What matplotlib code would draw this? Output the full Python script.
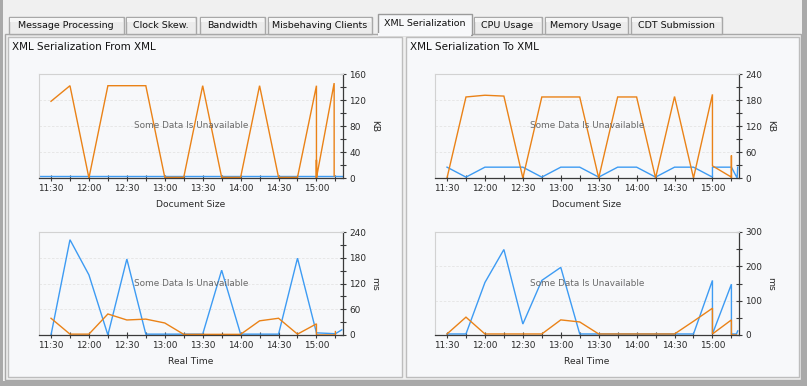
import matplotlib
matplotlib.use("Agg")
import matplotlib.pyplot as plt
from matplotlib.patches import Rectangle
from matplotlib.ticker import FixedLocator, MultipleLocator

# ---------------- data ----------------
tab_labels = ["Message Processing", "Clock Skew.", "Bandwidth", "Misbehaving Clients",
              "XML Serialization", "CPU Usage", "Memory Usage", "CDT Submission"]
selected_tab = "XML Serialization"

panel_titles = ["XML Serialization From XML", "XML Serialization To XML"]
unavailable_text = "Some Data Is Unavailable"

xtick_labels = ["11:30", "12:00", "12:30", "13:00", "13:30", "14:00", "14:30", "15:00"]

# From XML - Document Size (KB)
from_doc_blue_t = ["11:20", "15:25"]
from_doc_blue_v = [2.5, 2.5]
from_doc_orange_t = ["11:30", "11:45", "12:00", "12:15", "12:30", "12:45", "13:00", "13:15",
                     "13:30", "13:45", "14:00", "14:15", "14:30", "14:45", "15:00", "15:00",
                     "15:00", "15:00", "15:14", "15:14"]
from_doc_orange_v = [118, 142, 0, 142, 142, 142, 1, 1, 142, 1, 1, 142, 1, 1, 142, 0, 28, 0, 146, 3]

# To XML - Document Size (KB)
to_doc_blue_t = ["11:30", "11:45", "12:00", "12:15", "12:30", "12:45", "13:00", "13:15",
                 "13:30", "13:45", "14:00", "14:15", "14:30", "14:45", "15:00", "15:00",
                 "15:15", "15:19:30", "15:20"]
to_doc_blue_v = [25, 2, 25, 25, 25, 2, 25, 25, 2, 25, 25, 2, 25, 25, 2, 25, 25, 0, 25]
to_doc_orange_t = ["11:30", "11:45", "12:00", "12:15", "12:30", "12:45", "13:00", "13:15",
                   "13:30", "13:45", "14:00", "14:15", "14:30", "14:45", "15:00", "15:00",
                   "15:15", "15:15", "15:15"]
to_doc_orange_v = [0, 187, 191, 189, 0, 187, 187, 187, 0, 187, 187, 0, 188, 0, 193, 28, 2, 52, 0]

# From XML - Real Time (ms)
from_rt_blue_t = ["11:30", "11:45", "12:00", "12:15", "12:30", "12:45", "13:00", "13:15",
                  "13:30", "13:45", "14:00", "14:15", "14:30", "14:45", "15:00", "15:15", "15:20"]
from_rt_blue_v = [0, 222, 140, 0, 177, 2, 2, 2, 2, 151, 2, 2, 2, 179, 5, 3, 12]
from_rt_orange_t = ["11:30", "11:45", "12:00", "12:15", "12:30", "12:45", "13:00", "13:15",
                    "13:30", "13:45", "14:00", "14:15", "14:30", "14:45", "15:00", "15:00",
                    "15:15", "15:15"]
from_rt_orange_v = [39, 2, 2, 49, 35, 37, 28, 1.5, 1.5, 1.5, 1.5, 33, 39, 2, 26, 0, 0, 8]

# To XML - Real Time (ms)
to_rt_blue_t = ["11:30", "11:45", "12:00", "12:15", "12:30", "12:45", "13:00", "13:15",
                "13:30", "13:45", "14:00", "14:15", "14:30", "14:45", "15:00", "15:00",
                "15:15", "15:15", "15:19", "15:20"]
to_rt_blue_v = [3, 3, 153, 249, 32, 159, 197, 3, 3, 3, 3, 3, 3, 3, 159, 3, 148, 3, 3, 12]
to_rt_orange_t = ["11:30", "11:45", "12:00", "12:15", "12:30", "12:45", "13:00", "13:15",
                  "13:30", "13:45", "14:00", "14:15", "14:30", "14:45", "15:00", "15:00",
                  "15:15", "15:15", "15:19"]
to_rt_orange_v = [3, 52, 3, 3, 3, 3, 44, 38, 3, 3, 3, 3, 3, 40, 78, 3, 44, 0, 0]

# ---------------- style ----------------
BLUE = "#3d9bf3"
ORANGE = "#ea8217"
PANEL = "#f7f8fa"
BG = "#f0f0f0"
FONT = "DejaVu Sans"
plt.rcParams["font.family"] = [FONT]

W, H = 807, 386
fig = plt.figure(figsize=(W / 100, H / 100), dpi=100)
fig.patch.set_facecolor(BG)

bg = fig.add_axes([0, 0, 1, 1], zorder=0)
bg.set_xlim(0, W)
bg.set_ylim(H, 0)
bg.axis("off")


def rect(x0, y0, x1, y1, fc, ec="none", lw=1.0, z=1):
    bg.add_patch(Rectangle((x0, y0), x1 - x0, y1 - y0, facecolor=fc, edgecolor=ec,
                           linewidth=lw, zorder=z))


# window frame
rect(0, 0, 3, H, "#a9a9a9", z=5)
rect(802, 0, W, H, "#a9a9a9", z=5)
rect(0, 381, W, H, "#a9a9a9", z=5)

# content box
rect(4.5, 33.5, 800.5, 379.5, BG, "#a8a8a8", 1.0, z=1)

# tabs
tab_edges = [(8, 123), (125, 195), (199, 264), (267, 371), (377, 471), (473, 541),
             (544, 627), (630, 721)]
for (x0, x1), lab in zip(tab_edges, tab_labels):
    if lab == selected_tab:
        rect(x0 + 0.5, 13.5, x1 + 0.5, 34.5, PANEL, "#9a9a9a", 1.0, z=3)
        rect(x0 + 1.2, 32.5, x1 - 0.2, 35.5, PANEL, z=4)
        bg.text((x0 + x1) / 2 + 0.5, 23.5, lab, ha="center", va="center",
                fontsize=6.8, color="#111111", zorder=6)
    else:
        rect(x0 + 0.5, 16.5, x1 + 0.5, 33.5, "#ececec", "#a8a8a8", 1.0, z=2)
        rect(x0 + 1.5, 17.5, x1 - 0.5, 22, "#f6f6f6", z=2.5)
        bg.text((x0 + x1) / 2 + 0.5, 25.5, lab, ha="center", va="center",
                fontsize=6.8, color="#111111", zorder=6)

# panels
panel_boxes = [(7.5, 36.5, 401.5, 376.5), (405.5, 36.5, 798.5, 376.5)]
for (x0, y0, x1, y1), title in zip(panel_boxes, panel_titles):
    rect(x0, y0, x1, y1, PANEL, "#bdbdbd", 1.0, z=2)
    bg.text(x0 + 5, 47.5, title, ha="left", va="center", fontsize=7.5,
            color="#111111", zorder=6)


def tmin(s):
    parts = [int(p) for p in s.split(":")]
    h, m = parts[0], parts[1]
    sec = parts[2] if len(parts) > 2 else 0
    return (h * 60 + m + sec / 60.0) - (11 * 60 + 30)


def chart(box, series, ymax, ystep, yminor, ylabel, xlabel):
    x0, y0, x1, y1 = box
    ax = fig.add_axes([x0 / W, 1 - y1 / H, (x1 - x0) / W, (y1 - y0) / H], zorder=3)
    ax.set_facecolor(PANEL)
    for t, v, c in series:
        ax.plot([tmin(s) for s in t], v, color=c, lw=1.0, solid_joinstyle="miter")
    ax.set_xlim(-9.5, 231)
    ax.set_ylim(0, ymax)
    ax.xaxis.set_major_locator(FixedLocator([tmin(s) for s in xtick_labels]))
    ax.set_xticklabels(xtick_labels)
    ax.xaxis.set_minor_locator(MultipleLocator(15))
    ax.yaxis.tick_right()
    ax.yaxis.set_label_position("right")
    ax.yaxis.set_major_locator(MultipleLocator(ystep))
    ax.yaxis.set_minor_locator(MultipleLocator(yminor))
    ax.tick_params(which="both", direction="inout", length=5, width=0.8, color="#3a3a3a",
                   labelsize=6.4, labelcolor="#2a2a2a", pad=2)
    ax.tick_params(which="minor", length=4)
    ax.tick_params(axis="y", pad=2)
    ax.grid(axis="y", which="major", color="#e4e4e4", lw=0.6, ls=(0, (3, 2)))
    ax.set_axisbelow(True)
    for s in ("top", "left"):
        ax.spines[s].set_color("#d2d2d2")
        ax.spines[s].set_linewidth(0.8)
    for s in ("right", "bottom"):
        ax.spines[s].set_color("#3a3a3a")
        ax.spines[s].set_linewidth(0.9)
    ax.set_ylabel(ylabel, rotation=270, fontsize=6.6, color="#2a2a2a", labelpad=3,
                  va="bottom")
    ax.set_xlabel(xlabel, fontsize=6.6, color="#2a2a2a", labelpad=5)
    ax.text(0.5, 0.5, unavailable_text, transform=ax.transAxes, ha="center",
            va="center", fontsize=6.4, color="#6a6a6a", zorder=5)
    return ax


chart((39, 74, 343, 178),
      [(from_doc_blue_t, from_doc_blue_v, BLUE), (from_doc_orange_t, from_doc_orange_v, ORANGE)],
      160, 40, 20, "KB", "Document Size")
chart((435, 74, 739, 178),
      [(to_doc_blue_t, to_doc_blue_v, BLUE), (to_doc_orange_t, to_doc_orange_v, ORANGE)],
      240, 60, 30, "KB", "Document Size")
chart((39, 232, 343, 335),
      [(from_rt_blue_t, from_rt_blue_v, BLUE), (from_rt_orange_t, from_rt_orange_v, ORANGE)],
      240, 60, 30, "ms", "Real Time")
chart((435, 232, 739, 335),
      [(to_rt_blue_t, to_rt_blue_v, BLUE), (to_rt_orange_t, to_rt_orange_v, ORANGE)],
      300, 100, 50, "ms", "Real Time")

fig.savefig("out.png", dpi=100, facecolor=fig.get_facecolor())
